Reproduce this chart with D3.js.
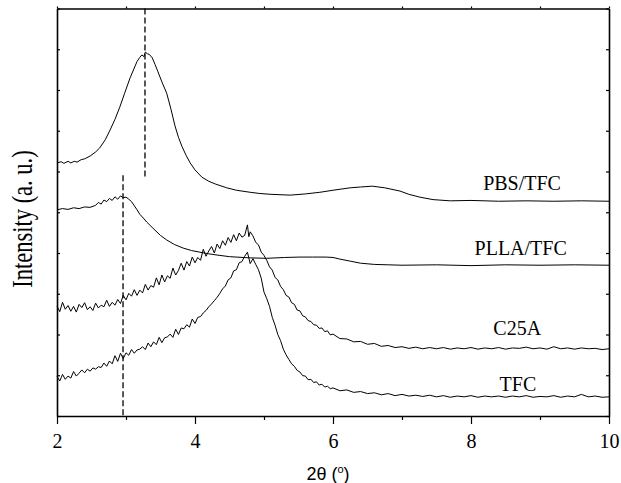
<!DOCTYPE html>
<meta charset="utf-8">
<head>
<style>
  body { margin: 0; background: #fff; }
  .axis path, .axis line { stroke: #000; }
  .curve { fill: none; stroke: #000; stroke-width: 1; stroke-linejoin: round; }
  .marker { stroke: #000; stroke-width: 1.3; stroke-dasharray: 6,3; }
</style>
<script src="https://d3js.org/d3.v7.min.js"></script>
</head>
<body>
<div id="chart"></div>
<script>
// *** Data (2theta in degrees, intensity in a.u., curves stacked)
var xMajorTicks = [2, 4, 6, 8, 10];
var xMinorTicks = [3, 5, 7, 9];
var xTopTicks = [2, 3, 4, 5, 6, 7, 8, 9, 10];
var yTicks = [0, 10, 20, 30, 40, 50, 60, 70, 80, 90, 100];

var pbsTfc = [
  [2.00,62.1],[2.06,62.4],[2.10,62.0],[2.16,62.5],[2.20,62.1],[2.25,62.5],[2.29,62.3],[2.35,62.9],[2.40,63.1],
  [2.48,63.8],[2.56,64.8],[2.62,65.8],[2.70,67.8],[2.77,70.2],[2.84,72.8],[2.91,75.8],[2.98,79.2],[3.06,83.0],
  [3.12,85.4],[3.16,87.0],[3.20,88.0],[3.23,88.6],[3.26,88.2],[3.28,89.3],[3.31,88.9],[3.34,88.7],[3.38,87.9],
  [3.42,86.3],[3.46,84.6],[3.52,82.0],[3.59,79.2],[3.65,75.4],[3.71,71.2],[3.76,68.4],[3.81,66.2],[3.87,64.0],
  [3.93,62.1],[4.00,60.4],[4.10,58.6],[4.20,57.6],[4.30,56.9],[4.46,56.0],[4.60,55.4],[4.80,54.9],[4.94,54.6],
  [5.10,54.4],[5.38,54.2],[5.60,54.5],[5.81,54.9],[6.00,55.4],[6.25,56.0],[6.40,56.2],[6.57,56.4],[6.75,56.0],
  [6.97,55.2],[7.10,54.4],[7.26,53.7],[7.45,53.1],[7.70,52.8],[8.00,52.9],[8.40,52.7],[8.80,52.8],[9.20,52.7],
  [9.60,52.8],[10.00,52.7]
];

var pllaTfc = [
  [2.00,50.6],[2.08,50.9],[2.16,50.7],[2.24,51.1],[2.32,50.9],[2.40,51.3],[2.48,51.2],[2.56,51.7],[2.60,52.4],
  [2.64,52.0],[2.68,53.0],[2.72,52.6],[2.76,53.4],[2.80,52.9],[2.84,53.8],[2.88,53.2],[2.92,54.0],[2.96,53.6],
  [3.00,53.7],[3.04,53.2],[3.08,52.6],[3.12,51.6],[3.16,50.6],[3.20,49.5],[3.25,48.6],[3.30,47.6],[3.39,46.1],
  [3.50,44.3],[3.59,43.2],[3.70,42.1],[3.83,41.2],[3.95,40.6],[4.07,40.2],[4.20,39.8],[4.32,39.5],[4.50,39.1],
  [4.80,38.8],[5.04,38.7],[5.30,38.9],[5.52,39.0],[5.70,39.0],[5.90,39.0],[6.00,38.9],[6.10,38.5],[6.25,38.0],
  [6.40,37.5],[6.60,37.2],[6.80,37.1],[7.00,37.0],[7.50,37.1],[8.00,36.9],[8.50,37.1],[9.00,37.0],[9.50,37.1],
  [10.00,37.0]
];

var c25a = [
  [2.00,27.0],[2.04,25.6],[2.08,27.9],[2.12,26.2],[2.16,27.1],[2.20,25.7],[2.24,26.9],[2.28,25.5],[2.32,27.4],
  [2.36,26.6],[2.40,27.8],[2.44,26.1],[2.48,26.8],[2.52,25.9],[2.56,27.7],[2.60,26.5],[2.64,27.2],[2.68,26.8],
  [2.72,28.4],[2.76,26.9],[2.80,27.9],[2.84,27.2],[2.88,28.6],[2.92,27.6],[2.96,29.6],[3.00,28.5],[3.04,30.1],
  [3.08,29.4],[3.12,31.0],[3.16,29.6],[3.20,30.9],[3.24,30.2],[3.28,32.3],[3.32,30.9],[3.36,32.0],[3.40,31.6],
  [3.44,33.9],[3.48,32.2],[3.52,34.6],[3.56,32.9],[3.60,34.4],[3.64,33.8],[3.68,36.3],[3.72,34.6],[3.76,35.7],
  [3.80,37.5],[3.84,35.8],[3.88,37.9],[3.92,36.8],[3.96,39.0],[4.00,37.6],[4.04,38.9],[4.08,38.2],[4.12,40.9],
  [4.16,39.2],[4.20,40.5],[4.24,41.6],[4.28,40.0],[4.32,42.2],[4.36,41.1],[4.40,43.0],[4.44,41.9],[4.48,43.8],
  [4.52,42.6],[4.56,44.5],[4.60,43.0],[4.64,44.9],[4.68,43.9],[4.72,44.3],[4.76,46.9],[4.78,44.0],[4.80,45.2],
  [4.84,44.2],[4.88,42.6],[4.92,42.0],[4.96,40.2],[5.00,39.4],[5.04,38.2],[5.08,36.6],[5.12,35.8],[5.16,34.0],
  [5.20,33.4],[5.24,31.8],[5.28,31.0],[5.32,29.6],[5.36,29.2],[5.40,27.8],[5.44,27.4],[5.48,26.0],[5.52,25.8],
  [5.56,24.6],[5.60,24.3],[5.64,23.4],[5.68,23.2],[5.72,22.4],[5.76,22.3],[5.80,21.5],[5.84,21.6],[5.88,20.7],
  [5.92,20.9],[5.96,19.9],[6.00,20.1],[6.10,19.0],[6.20,18.9],[6.30,18.2],[6.40,18.3],[6.50,17.6],[6.60,17.8],
  [6.70,17.1],[6.80,17.3],[6.90,16.8],[7.00,17.0],[7.10,16.6],[7.20,16.9],[7.30,16.5],[7.40,16.8],[7.50,16.5],
  [7.60,16.8],[7.70,16.4],[7.80,16.7],[7.90,16.5],[8.00,16.8],[8.10,16.4],[8.20,16.7],[8.30,16.5],[8.40,16.8],
  [8.50,16.4],[8.60,16.7],[8.70,16.6],[8.80,16.9],[8.90,16.5],[9.00,16.7],[9.10,16.4],[9.20,17.0],[9.30,16.5],
  [9.40,16.7],[9.50,16.4],[9.60,16.7],[9.70,16.5],[9.80,16.6],[9.90,16.3],[10.00,16.5]
];

var tfc = [
  [2.00,9.7],[2.04,8.6],[2.08,10.2],[2.12,9.0],[2.16,9.8],[2.20,9.3],[2.24,10.9],[2.28,9.8],[2.32,10.5],
  [2.36,11.3],[2.40,10.6],[2.44,11.5],[2.48,11.0],[2.52,11.8],[2.56,11.5],[2.60,12.1],[2.64,11.9],[2.68,13.0],
  [2.72,12.2],[2.76,13.5],[2.80,12.8],[2.84,14.8],[2.88,13.4],[2.92,15.4],[2.96,14.1],[3.00,15.5],[3.04,14.9],
  [3.08,16.3],[3.12,15.4],[3.16,16.2],[3.20,16.4],[3.24,17.0],[3.28,16.3],[3.32,17.9],[3.36,17.0],[3.40,18.2],
  [3.44,17.5],[3.48,19.3],[3.52,18.0],[3.56,19.2],[3.60,19.4],[3.64,20.1],[3.68,19.3],[3.72,21.3],[3.76,20.0],
  [3.80,21.6],[3.84,21.4],[3.88,22.4],[3.92,21.8],[3.96,23.8],[4.00,22.7],[4.04,24.2],[4.08,24.4],[4.12,25.3],
  [4.16,25.9],[4.20,26.8],[4.24,27.5],[4.28,28.3],[4.32,29.1],[4.36,30.1],[4.40,31.2],[4.44,31.9],[4.48,33.4],
  [4.52,33.9],[4.56,35.6],[4.60,35.9],[4.64,37.6],[4.68,37.9],[4.72,39.2],[4.76,40.2],[4.80,37.4],[4.84,38.6],
  [4.88,37.2],[4.92,35.9],[4.96,33.8],[5.00,30.4],[5.04,28.8],[5.08,26.9],[5.12,24.2],[5.16,22.3],[5.20,20.0],
  [5.24,18.5],[5.28,16.4],[5.32,15.0],[5.36,13.9],[5.40,12.8],[5.44,12.2],[5.48,11.2],[5.52,10.8],[5.56,9.9],
  [5.60,9.8],[5.64,8.9],[5.68,9.0],[5.72,8.2],[5.76,8.4],[5.80,7.6],[5.84,7.8],[5.88,7.1],[5.92,7.3],
  [5.96,6.7],[6.00,6.9],[6.10,6.2],[6.20,6.4],[6.30,5.8],[6.40,6.0],[6.50,5.5],[6.60,5.7],[6.70,5.2],
  [6.80,5.5],[6.90,5.0],[7.00,5.3],[7.10,4.9],[7.20,5.1],[7.30,4.8],[7.40,5.1],[7.50,4.7],[7.60,5.0],
  [7.70,4.6],[7.80,4.9],[7.90,4.7],[8.00,5.0],[8.10,4.6],[8.20,4.9],[8.30,4.7],[8.40,4.9],[8.50,4.6],
  [8.60,4.9],[8.70,4.7],[8.80,5.0],[8.90,4.6],[9.00,4.8],[9.10,4.7],[9.20,5.0],[9.30,4.6],[9.40,4.9],
  [9.50,4.7],[9.60,5.3],[9.70,4.7],[9.80,4.9],[9.90,4.6],[10.00,4.7]
];

var seriesNames = ["PBS/TFC", "PLLA/TFC", "C25A", "TFC"];
var seriesData = [pbsTfc, pllaTfc, c25a, tfc];
// label anchor [2theta, intensity] for each curve name
var labelPos = [[8.74, 55.5], [8.72, 39.5], [8.67, 19.9], [8.68, 6.1]];
// dashed reference lines: [2theta, from, to]
var peakLines = [[3.275, 58.4, 100], [2.957, 0, 59.1]];

// *** Set up svg
var margin = { top: 8.5, right: 12, bottom: 67, left: 57 },
    width = 621 - margin.left - margin.right,
    height = 483 - margin.top - margin.bottom;

var root = d3.select("#chart").append("svg")
  .attr("width", 621)
  .attr("height", 483);

var svg = root.append("g")
  .attr("transform", "translate(" + margin.left + "," + margin.top + ")");

var x = d3.scaleLinear().domain([2, 10]).range([0, width]);
var y = d3.scaleLinear().domain([0, 100]).range([height, 0]);

var line = d3.line()
  .x(function(d) { return x(d[0]); })
  .y(function(d) { return y(d[1]); });

// curves
svg.selectAll(".curve")
  .data(seriesData)
  .enter().append("path")
  .attr("class", "curve")
  .attr("d", line);

// dashed peak markers
svg.selectAll(".marker")
  .data(peakLines)
  .enter().append("line")
  .attr("class", "marker")
  .attr("x1", function(d) { return x(d[0]); })
  .attr("x2", function(d) { return x(d[0]); })
  .attr("y1", function(d) { return y(d[2]); })
  .attr("y2", function(d) { return y(d[1]); });

// curve labels
svg.selectAll("text.lbl")
  .data(seriesNames)
  .enter().append("text")
  .attr("class", "lbl")
  .attr("x", function(d, i) { return x(labelPos[i][0]); })
  .attr("y", function(d, i) { return y(labelPos[i][1]); })
  .attr("font-family", "Times New Roman")
  .attr("font-size", 20)
  .attr("text-anchor", "middle")
  .text(function(d) { return d; });

// x axis (bottom), major + minor
var xAxis = svg.append("g")
  .attr("class", "axis")
  .attr("transform", "translate(0," + height + ")")
  .call(d3.axisBottom(x).tickValues(xMajorTicks).tickSizeInner(8).tickSizeOuter(0)
    .tickPadding(10).tickFormat(d3.format("d")));
xAxis.attr("font-family", "Times New Roman").attr("font-size", 20);

svg.append("g")
  .attr("class", "axis")
  .attr("transform", "translate(0," + height + ")")
  .call(d3.axisBottom(x).tickValues(xMinorTicks).tickSizeInner(4).tickSizeOuter(0).tickFormat(""))
  .select(".domain").remove();

// top
svg.append("g")
  .attr("class", "axis")
  .call(d3.axisTop(x).tickValues(xTopTicks).tickSizeInner(2).tickSizeOuter(0).tickFormat(""));

// y axes, no labels
svg.append("g")
  .attr("class", "axis")
  .call(d3.axisLeft(y).tickValues(yTicks).tickSizeInner(-3).tickSizeOuter(0).tickFormat(""));

svg.append("g")
  .attr("class", "axis")
  .attr("transform", "translate(" + width + ",0)")
  .call(d3.axisRight(y).tickValues(yTicks).tickSizeInner(-3).tickSizeOuter(0).tickFormat(""));

svg.selectAll(".axis .domain").style("stroke-width", 1.6);
svg.selectAll(".axis line").style("stroke-width", 1.2);

// axis titles
var xt = svg.append("text")
  .attr("x", width / 2 - 5)
  .attr("y", height + 63.5)
  .attr("font-family", "Arial")
  .attr("font-size", 18)
  .attr("text-anchor", "middle");
xt.append("tspan").text("2\u03b8 (");
xt.append("tspan").attr("dy", "-7").attr("font-size", 11).text("o");
xt.append("tspan").attr("dy", "7").text(")");

svg.append("text")
  .attr("transform", "translate(" + (32 - margin.left) + "," + (219 - margin.top) + ") scale(1.3,1) rotate(-90)")
  .attr("font-family", "Times New Roman")
  .attr("font-size", 22.5)
  .attr("text-anchor", "middle")
  .text("Intensity (a. u.)");
</script>
</body>
